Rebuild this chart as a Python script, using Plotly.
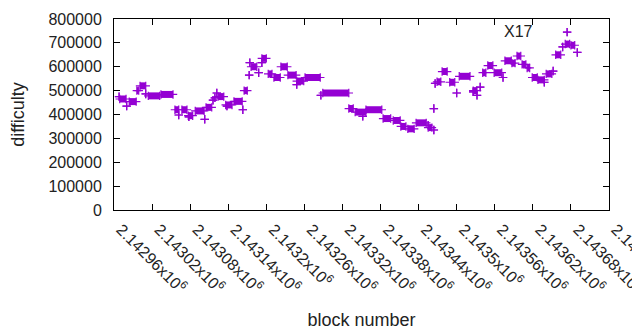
import plotly.graph_objects as go

# Runs of constant difficulty: first block, last block, difficulty
run_start = [2142968, 2142969, 2142980, 2142984, 2142996, 2143001, 2143010, 2143014, 2143034,
             2143056, 2143062, 2143067, 2143077, 2143078, 2143088, 2143103, 2143105, 2143116,
             2143119, 2143122, 2143124, 2143138, 2143136, 2143149, 2143163, 2143165, 2143173,
             2143174, 2143176, 2143188, 2143193, 2143193, 2143203, 2143212, 2143223, 2143234,
             2143248, 2143248, 2143261, 2143286, 2143289, 2143330, 2143340, 2143352, 2143357,
             2143384, 2143400, 2143412, 2143423, 2143436, 2143455, 2143455, 2143464, 2143464,
             2143466, 2143469, 2143477, 2143489, 2143500, 2143504, 2143526, 2143526, 2143532,
             2143537, 2143541, 2143549, 2143559, 2143573, 2143576, 2143587, 2143595, 2143603,
             2143611, 2143619, 2143628, 2143638, 2143641, 2143652, 2143656, 2143667, 2143671,
             2143674, 2143680, 2143690]
run_end = [2142968, 2142979, 2142980, 2142995, 2142999, 2143010, 2143010, 2143032, 2143053,
           2143062, 2143062, 2143075, 2143084, 2143078, 2143102, 2143103, 2143114, 2143116,
           2143119, 2143122, 2143133, 2143138, 2143146, 2143162, 2143163, 2143170, 2143173,
           2143174, 2143185, 2143188, 2143193, 2143200, 2143209, 2143222, 2143233, 2143247,
           2143248, 2143259, 2143285, 2143286, 2143330, 2143337, 2143357, 2143352, 2143382,
           2143396, 2143411, 2143420, 2143433, 2143452, 2143455, 2143461, 2143464, 2143464,
           2143466, 2143475, 2143485, 2143497, 2143500, 2143521, 2143526, 2143532, 2143532,
           2143537, 2143546, 2143557, 2143571, 2143573, 2143586, 2143592, 2143601, 2143609,
           2143615, 2143627, 2143638, 2143638, 2143650, 2143652, 2143664, 2143667, 2143678,
           2143674, 2143686, 2143690]
run_value = [475000, 465000, 435000, 454000, 500000, 520000, 486000, 478000, 484000,
             420000, 398000, 420000, 395000, 390000, 415000, 380000, 430000, 460000,
             470000, 490000, 475000, 435000, 440000, 455000, 420000, 500000, 565000,
             617000, 600000, 575000, 617000, 635000, 570000, 555000, 600000, 565000,
             525000, 540000, 555000, 480000, 490000, 425000, 410000, 392000, 420000,
             383000, 375000, 350000, 340000, 365000, 355000, 345000, 335000, 425000,
             530000, 537000, 580000, 535000, 490000, 560000, 495000, 500000, 480000,
             515000, 575000, 605000, 575000, 555000, 625000, 615000, 645000, 610000,
             595000, 555000, 545000, 535000, 570000, 582000, 650000, 683000, 695000,
             745000, 690000, 660000]

x_tick_vals = [2142960 + 60 * i for i in range(14)]
x_tick_text = ["2.14296", "2.14302", "2.14308", "2.14314", "2.1432", "2.14326", "2.14332",
               "2.14338", "2.14344", "2.1435", "2.14356", "2.14362", "2.14368", "2.14374"]
y_tick_vals = [0, 100000, 200000, 300000, 400000, 500000, 600000, 700000, 800000]

COLOR = "#9400d3"
FONT = "Liberation Sans"

seg_x, seg_y, pt_x, pt_y = [], [], [], []
for s, e, v in zip(run_start, run_end, run_value):
    pt_x += [s, e]
    pt_y += [v, v]
    if e > s:
        seg_x += [s, e, None]
        seg_y += [v, v, None]

fig = go.Figure()
fig.add_trace(go.Scatter(x=seg_x, y=seg_y, mode="lines",
                         line=dict(color=COLOR, width=7), hoverinfo="skip",
                         showlegend=False))
fig.add_trace(go.Scatter(x=pt_x, y=pt_y, mode="markers",
                         marker=dict(symbol="cross-thin", size=6,
                                     line=dict(color=COLOR, width=1.2)),
                         showlegend=False))

# the page body has an 8px margin, so the figure is 8px smaller each way
fig.update_layout(
    width=632, height=322,
    margin=dict(l=106, r=31, t=11, b=120),
    paper_bgcolor="white", plot_bgcolor="white",
    font=dict(family=FONT, size=15, color="#222222"),
    xaxis=dict(range=[2142960, 2143740], tickmode="array", tickvals=x_tick_vals,
               ticktext=[t + "x10<sup>6</sup>" for t in x_tick_text],
               tickangle=45, ticks="inside", ticklen=6, tickcolor="black",
               showline=True, linecolor="black", linewidth=1, mirror="allticks",
               showgrid=False, zeroline=False, automargin=False,
               tickfont=dict(size=16), ticklabelshift=7, ticklabelstandoff=3,
               ticklabeloverflow="allow",
               title=dict(text="block number", standoff=20)),
    yaxis=dict(range=[0, 800000], tickmode="array", tickvals=y_tick_vals,
               ticktext=[str(v) for v in y_tick_vals],
               ticks="inside", ticklen=6, tickcolor="black",
               showline=True, linecolor="black", linewidth=1, mirror="allticks",
               showgrid=False, zeroline=False, automargin=False,
               tickfont=dict(size=16), ticklabelstandoff=8,
               title=dict(text="difficulty", standoff=26)),
    annotations=[dict(text="X17", xref="paper", yref="paper", x=0.818, y=0.937,
                      xanchor="center", yanchor="middle",
                      showarrow=False, font=dict(size=16, color="#222222"))],
)

fig.write_html("out.html")
